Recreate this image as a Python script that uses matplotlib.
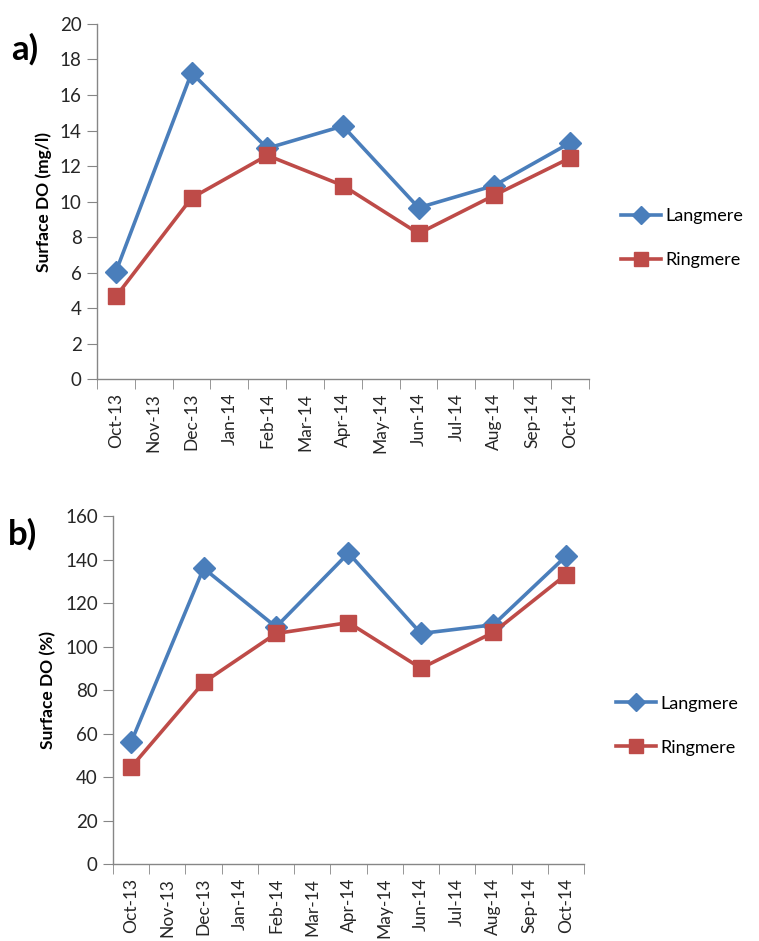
import numpy as np
import matplotlib
matplotlib.use("Agg")
import matplotlib.pyplot as plt

plt.rcParams['font.family'] = ['Lato', 'DejaVu Sans']

months = ['Oct-13', 'Nov-13', 'Dec-13', 'Jan-14', 'Feb-14', 'Mar-14',
          'Apr-14', 'May-14', 'Jun-14', 'Jul-14', 'Aug-14', 'Sep-14', 'Oct-14']
sampled = ['Oct-13', 'Dec-13', 'Feb-14', 'Apr-14', 'Jun-14', 'Aug-14', 'Oct-14']

langmere_mg = [6.05, 17.25, 13.0, 14.25, 9.65, 10.9, 13.3]
ringmere_mg = [4.65, 10.2, 12.6, 10.9, 8.2, 10.35, 12.45]

langmere_pct = [56, 136, 109, 143, 106, 110, 141.5]
ringmere_pct = [44.5, 83.5, 106, 111, 90, 106.5, 133]

blue = '#4A7EBB'
red = '#BE4B48'
grey = '#868686'
txt = '#262626'

fig = plt.figure(figsize=(7.59, 9.41), dpi=100)


def panel(rect, lv, rv, ymax, ystep, ylabel, tag, tagpos, legpos):
    ax = fig.add_axes(rect)
    xs = [months.index(m) for m in sampled]
    ax.plot(xs, lv, color=blue, lw=2.6, marker='D', ms=11,
            label='Langmere', solid_joinstyle='round')
    ax.plot(xs, rv, color=red, lw=2.6, marker='s', ms=12,
            label='Ringmere', solid_joinstyle='round')
    ax.set_xlim(-0.5, len(months) - 0.5)
    ax.set_ylim(0, ymax)
    ax.set_yticks(np.arange(0, ymax + 0.1, ystep))
    ax.set_xticks(range(len(months)))
    ax.set_xticklabels(months, rotation=90, fontsize=12.5, color=txt)
    ax.set_xticks(np.arange(-0.5, len(months)), minor=True)
    ax.tick_params(axis='x', which='major', length=0, pad=10)
    ax.tick_params(axis='x', which='minor', length=7, color=grey, direction='out')
    ax.tick_params(axis='y', length=7, color=grey, labelsize=13.5, labelcolor=txt, pad=4)
    for s in ['top', 'right']:
        ax.spines[s].set_visible(False)
    for s in ['left', 'bottom']:
        ax.spines[s].set_color(grey)
        ax.spines[s].set_linewidth(1)
    ax.set_ylabel(ylabel, fontsize=12.5, fontweight='bold', labelpad=6)
    fig.text(tagpos[0], tagpos[1], tag, fontsize=25, fontweight='bold', va='center')
    fig.legend(handles=ax.get_lines(), loc='center left', bbox_to_anchor=legpos,
               frameon=False, fontsize=13, handlelength=2.2, labelspacing=1.55,
               handletextpad=0.25, markerscale=0.8, borderpad=0, borderaxespad=0)
    return ax


panel([0.1278, 0.5972, 0.648, 0.3773], langmere_mg, ringmere_mg, 20, 2,
      'Surface DO (mg/l)', 'a)', (0.014, 0.948), (0.818, 0.747))
panel([0.1489, 0.0818, 0.6205, 0.3698], langmere_pct, ringmere_pct, 160, 20,
      'Surface DO (%)', 'b)', (0.011, 0.432), (0.812, 0.229))

fig.savefig('out.png', dpi=100)
